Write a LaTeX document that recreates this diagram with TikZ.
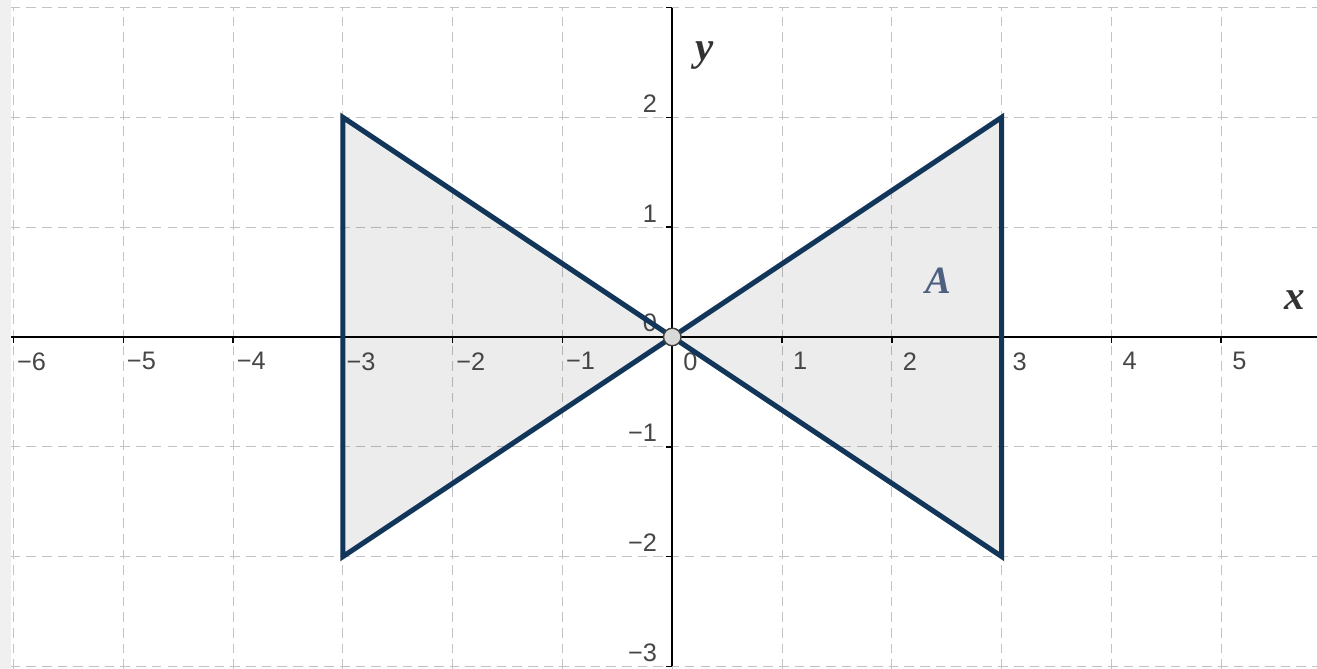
\documentclass[tikz,border=0pt]{standalone}
\usepackage{fontspec}
\setmainfont{Liberation Serif}
\setsansfont{Liberation Sans}
\usepackage{tikz}
\usetikzlibrary{positioning}
\definecolor{bowblue}{RGB}{18,54,90}
\definecolor{gridgray}{RGB}{195,195,195}
\definecolor{ticktext}{RGB}{70,70,70}
\definecolor{areablue}{RGB}{78,96,128}

\begin{document}
\begin{tikzpicture}[x=1.6cm,y=1.6cm,
		gridline/.style={gridgray,line width=0.45pt,dash pattern=on 4pt off 2.5pt},
		xtick/.style={anchor=north,inner sep=0pt,text=ticktext,font=\sffamily\fontsize{10.5}{12}\selectfont},
		ytick/.style={anchor=south east,inner sep=0pt,text=ticktext,font=\sffamily\fontsize{10.5}{12}\selectfont},
		axisname/.style={inner sep=0pt,text=black!80,font=\bfseries\itshape\fontsize{17}{20}\selectfont},
		bowtie/.style={bowblue,line width=2.1pt,line join=miter}]
			% Frame
			\useasboundingbox (-6.123,-3.024) rectangle (5.872,3.069);
			\fill[white] (-6.123,-3.024) rectangle (5.872,3.069);
			\fill[black!6] (-6.123,-3.024) rectangle (-6.025,3.069);
			
			% Grid
			\draw[gridline,step=1] (-6.025,-3.024) grid (5.872,3.0);
			
			% Corners of the bow tie
			\coordinate (O0) at (0,0);
			\coordinate (L1) at (-3,2);
			\coordinate (L2) at (-3,-2);
			\coordinate (R1) at (3,2);
			\coordinate (R2) at (3,-2);
			\fill[black,fill opacity=0.075] (L1) -- (O0) -- (L2) -- cycle;
			\fill[black,fill opacity=0.075] (R1) -- (O0) -- (R2) -- cycle;
			
			% Axes
			\draw[black,line width=0.65pt] (-6.025,0) -- (5.872,0);
			\draw[black,line width=0.65pt] (0,-3) -- (0,3);
			\foreach \x in {-6,...,5} \draw[black,line width=0.65pt] (\x,0) -- (\x,-0.055);
			\foreach \y in {-3,...,3} \draw[black,line width=0.65pt] (0,\y) -- (-0.055,\y);
			
			% Tick labels
			\foreach \x/\t in {-6/−6,-5/−5,-4/−4,-3/−3,-2/−2,-1/−1,0/0,1/1,2/2,3/3,4/4,5/5}
				\node[xtick] (tx\x) at (\x+0.165,-0.137) {\t};
			\foreach \y/\t in {-3/−3,-2/−2,-1/−1,0/0,1/1,2/2}
				\node[ytick] (ty\y) at (-0.135,\y+0.04) {\t};
			
			% Axis names
			\node[axisname] (xname) at (5.67,0.337) {x};
			\node[axisname] (yname) at (0.293,2.56) {y};
			\node[axisname,text=areablue,font=\bfseries\itshape\fontsize{16}{19}\selectfont] (area) at (2.42,0.515) {A};
			
			% Bow tie
			\draw[bowtie] (L1) -- (O0) -- (L2) -- cycle;
			\draw[bowtie] (R1) -- (O0) -- (R2) -- cycle;
			\node[draw=black!75,fill=black!15,circle,line width=0.6pt,minimum size=0.16cm*1.6,inner sep=0pt] (O) at (O0) {};
		\end{tikzpicture}
\end{document}
